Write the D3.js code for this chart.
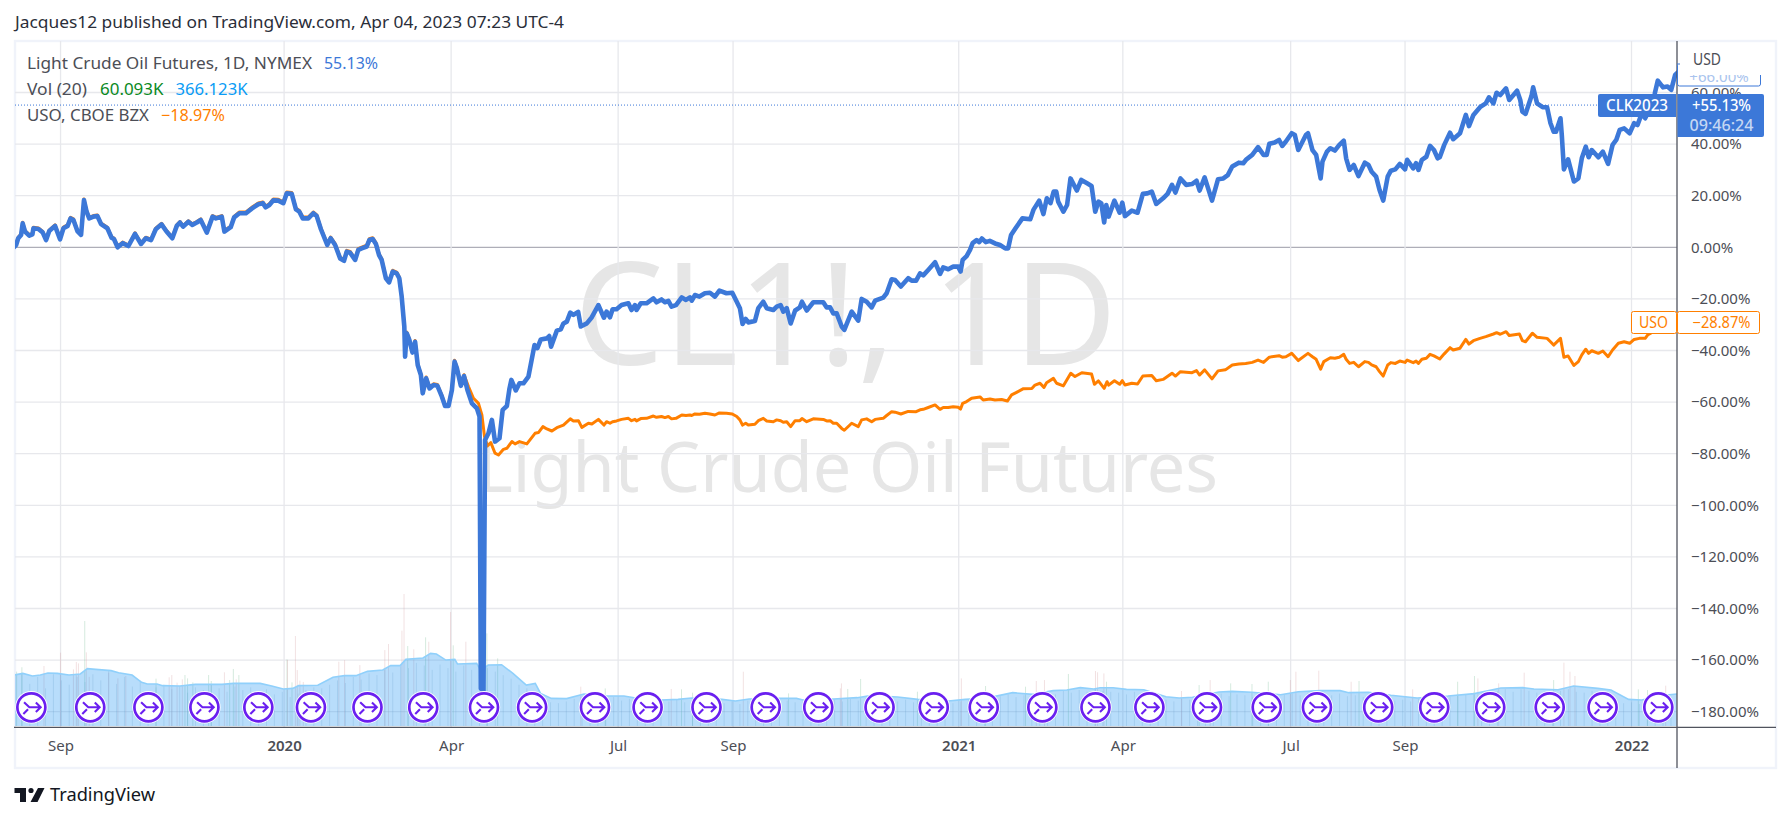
<!DOCTYPE html>
<html><head><meta charset="utf-8">
<script src="https://cdnjs.cloudflare.com/ajax/libs/d3/7.8.5/d3.min.js"></script>
<style>html,body{margin:0;padding:0;background:#fff}svg{display:block}text{font-family:"Noto Sans",sans-serif}</style>
</head><body><div id="chart"></div>
<script>
// [session number, % change]
const crudeSeries=[[0,0],[0.8,0.9],[1.6,3.5],[2.7,4.8],[3.3,9.3],[4.2,6.1],[5.8,4.5],[7,5],[7.4,7.4],[9.3,7.1],[10.9,5.8],[12.2,2.8],[13.4,6.3],[15.6,8.3],[17.5,3.1],[18.8,7.4],[20.4,8.3],[21.5,11.2],[22.6,10.6],[24.1,6.3],[25.5,4.8],[26.6,18.3],[27.6,13.8],[28.6,11.2],[30.2,11.9],[31.7,12.1],[33.1,9],[35.5,7.4],[37.1,3.7],[38,3.2],[39.4,0],[41.3,1.6],[43.5,0.5],[46,5.2],[48.3,1.3],[50.1,3.5],[52.1,2.8],[53.9,7],[56.1,8.9],[58,6.1],[60.2,3.5],[61.9,8.3],[63.1,9.6],[64.3,8],[66.3,9.9],[67.8,8.7],[69.5,9.6],[71,10.6],[73.3,5.7],[75.5,11.9],[76.8,11.2],[79,11.9],[80,6.1],[82.4,7.8],[83.7,11.6],[85.7,13.2],[88.2,13.2],[90.4,15],[92.9,16.7],[94.6,17.1],[95.7,15.5],[97.1,16.4],[98.6,18.2],[100.5,18.1],[102.4,17.1],[103.7,20.9],[105.6,20.7],[107.2,14.7],[108.5,13.8],[109.8,11.2],[111.9,11.2],[113.8,13.2],[115.1,12.1],[116.7,7],[119.1,0.9],[120.4,3.5],[122.1,0.9],[124,-4.3],[125.5,-5.2],[126.5,-1.7],[127.8,-2.1],[129.7,-4.9],[130.9,-1],[132.2,-0.4],[134.1,0.3],[135.1,2.8],[136.4,3.2],[137.6,1.3],[138.8,-3],[139.8,-4.9],[141.4,-12],[142.6,-13.6],[144,-9.4],[145.5,-10.1],[146.5,-12],[147.4,-19.1],[148.4,-30.7],[148.7,-42.4],[149.3,-33.3],[150.3,-35.9],[151.5,-40.8],[152.5,-36.6],[153.5,-45.6],[154.7,-49.5],[155.4,-56.6],[156.7,-50.8],[158,-54.7],[159.5,-53.4],[161,-53.7],[162.7,-57.9],[163.9,-61.5],[165.2,-61.5],[166.5,-55.3],[167.5,-44.3],[168.4,-46.9],[169.9,-53.7],[171.1,-49.9],[172.4,-55.3],[174.1,-60.5],[176,-62.4],[177,-65.6],[177.5,-171],[178.5,-172],[179.1,-74.7],[180.4,-72.1],[181.7,-66.9],[182.9,-75.3],[184.6,-74],[185.8,-63],[187.4,-61.5],[188.4,-54.7],[189.1,-51.4],[190.8,-55.5],[192.2,-52.7],[193.7,-52.7],[195.6,-50.1],[197.9,-37.9],[199,-39.1],[200.3,-35.7],[202.6,-35.3],[203.5,-34.4],[204.2,-38.5],[206.4,-32.3],[207.9,-31.8],[208.9,-29.5],[210.2,-28.8],[211.5,-25.3],[212.7,-26.2],[214.5,-25],[215.5,-30.7],[217.8,-29.5],[219.7,-27.1],[222.2,-22.4],[224.3,-27.3],[225.3,-24.9],[226.6,-27.1],[227.6,-24],[229.1,-24],[231,-22.4],[233.6,-21.7],[234.8,-24.3],[236.1,-22.4],[236.7,-24.3],[238.3,-21.7],[240.5,-21.7],[243.1,-19.8],[244.3,-21.3],[246.2,-20.2],[247.5,-21.3],[248.8,-20.8],[250,-23],[251.7,-22.4],[253.9,-19.4],[255.5,-20.4],[257,-19.4],[257.7,-20.7],[258.9,-18.5],[260.6,-19.1],[262.7,-17.8],[264.6,-17.6],[266.5,-19.1],[268.2,-16.8],[270.9,-17.8],[273.1,-17.6],[274.8,-21.1],[276,-23.6],[277,-29.7],[278.2,-27.8],[279.2,-29.1],[281.7,-28.6],[283,-23.6],[284.9,-21.1],[286.2,-23.6],[288.7,-24.3],[290,-23],[291.5,-22.4],[292.5,-24.9],[293.8,-23.6],[295.3,-29.5],[297,-24.5],[298.8,-23.3],[299.6,-21.1],[301.4,-24.5],[303.9,-21.3],[307.7,-21.3],[309,-23.3],[310.3,-23.3],[311.5,-25.6],[312.8,-25.6],[314.7,-30.7],[315.7,-32],[318.5,-24.9],[321,-28.4],[322.3,-20],[324.2,-21.1],[326.1,-23.3],[327.4,-20.7],[330.5,-19.5],[331.8,-17.8],[333.7,-12.4],[335,-12.7],[337.2,-15.2],[340,-12],[341.3,-12.9],[343,-12.9],[344.5,-10.1],[345.7,-10.9],[347.6,-8.8],[350.2,-5.8],[352.1,-10.3],[353.3,-7.8],[355.2,-8.5],[357.1,-7.5],[359,-7.5],[359.9,-9.4],[360.7,-4.9],[362.2,-3.4],[363.5,-1],[364.5,1.6],[366,2.8],[367,2],[368,3.4],[369.5,2],[371,2.5],[373,1.5],[374.9,0.9],[376.9,-0.4],[378,-0.4],[379.1,4.8],[380.8,7.4],[383.4,11.2],[386.4,10.9],[387.6,14.5],[389.8,18.1],[391.4,12.9],[392.7,19],[394.1,17.1],[395.3,21.6],[396.3,21.6],[397,17.7],[399,13.8],[400.4,16.4],[401.7,26.7],[404.1,22],[405.8,26.1],[408,24.8],[409.7,23.8],[411.1,13.8],[412.3,17.7],[413.4,17.1],[414.5,9.6],[415.3,16.4],[416.2,11.9],[418.4,18.1],[420.4,13.4],[421.4,17.3],[422.4,12.1],[425,14.2],[427.2,13.4],[429.2,20.7],[430.9,20.9],[432.6,21.6],[434.3,16.8],[436.9,19],[438.6,20.7],[440.3,24.2],[441.6,21.2],[443.5,26.7],[445.7,24.2],[447.9,24.5],[449.6,25.8],[450.8,22],[452.7,27.1],[455.5,18.1],[457.8,26.4],[459.8,26.7],[461.5,28],[463.2,31.3],[465.7,32.8],[467.4,32.6],[468.6,34.1],[470.8,35.8],[473,38.8],[475.1,35.8],[476.3,35.8],[477.3,40.1],[479.3,40.6],[481,41.6],[482.2,39.3],[483.6,41],[485.8,44.2],[487,43.5],[488.3,37.7],[491.2,43.5],[492,44.2],[493.7,37.7],[495.1,35.8],[496.8,26.7],[497.5,33.2],[499.2,37.1],[500.5,38.4],[502.2,37.5],[503.9,39.7],[505.6,41.3],[506.5,34.5],[507.8,30],[509.4,31.9],[511.2,27.6],[513.6,32.8],[515,31.9],[516.2,29.3],[517.9,27.4],[519.2,22.2],[520.6,18.1],[522.3,27.4],[523.5,29.7],[525.2,30.2],[526.9,32.3],[528.9,30.2],[529.7,33.9],[532,30.6],[533.1,32.6],[534,30],[535.3,33.9],[537,35.1],[538.4,39.3],[539.9,37.7],[541.3,34.5],[542.1,34.9],[543.8,39.7],[546,44.4],[547.2,41.9],[549.8,44.2],[552,51.3],[553.2,47],[554.9,51.3],[557.4,54.3],[559.6,55.8],[560.8,58.1],[562.5,55.8],[563.7,59.9],[565.1,59],[567.3,61.6],[568.5,57.1],[571.5,60.7],[572.7,57.1],[573.5,52.6],[574.7,51.7],[577,58.7],[577.6,62],[579.1,55.8],[581.2,54.3],[582.9,54.3],[584.2,48.1],[585.4,44.8],[586.3,44.8],[588,50],[588.5,43.5],[589.3,30.2],[590.9,34.1],[593.1,25.5],[594.8,26.7],[596.1,34.5],[597.6,39],[598.7,34.9],[599.9,37.7],[602.4,34.9],[604.1,37.1],[606.1,32.3],[607.8,39.7],[609.2,41.6],[610.5,45.5],[612.2,46.1],[614.3,44.2],[616,48.1],[617.3,47.4],[618.9,51.9],[620.2,50],[622.4,54.5],[623.8,59.4],[625,64.6],[627,62],[628.7,62.3],[630.1,61],[631.6,66.8],[632.5,67.7]];
const usoSeries=[[0,0.4],[0.8,1.3],[1.6,3.9],[2.7,5.2],[3.3,9.7],[4.2,6.5],[5.8,4.9],[7,5.4],[7.4,7.8],[9.3,7.5],[10.9,6.2],[12.2,3.2],[13.4,6.7],[15.6,8.7],[17.5,3.5],[18.8,7.8],[20.4,8.7],[21.5,11.6],[22.6,11],[24.1,6.7],[25.5,5.2],[26.6,18.7],[27.6,14.2],[28.6,11.6],[30.2,12.3],[31.7,12.5],[33.1,9.4],[35.5,7.8],[37.1,4.1],[38,3.6],[39.4,0.4],[41.3,2],[43.5,0.9],[46,5.6],[48.3,1.7],[50.1,3.9],[52.1,3.2],[53.9,7.4],[56.1,9.3],[58,6.5],[60.2,3.9],[61.9,8.7],[63.1,10],[64.3,8.4],[66.3,10.3],[67.8,9.1],[69.5,10],[71,11],[73.3,6.1],[75.5,12.3],[76.8,11.6],[79,12.3],[80,6.5],[82.4,8.2],[83.7,12],[85.7,13.7],[88.2,13.7],[90.4,15.5],[92.9,17.2],[94.6,17.6],[95.7,16],[97.1,16.9],[98.6,18.7],[100.5,18.6],[102.4,17.6],[103.7,21.4],[105.6,21.2],[107.2,15.2],[108.5,14.3],[109.8,11.7],[111.9,11.7],[113.8,13.7],[115.1,12.6],[116.7,7.5],[119.1,1.4],[120.4,4],[122.1,1.4],[124,-3.8],[125.5,-4.7],[126.5,-1.2],[127.8,-1.6],[129.7,-4.4],[130.9,-0.5],[132.2,0.1],[134.1,0.8],[135.1,3.3],[136.4,3.7],[137.6,1.8],[138.8,-2.5],[139.8,-4.4],[141.4,-11.5],[142.6,-13.1],[144,-8.9],[145.5,-9.6],[146.5,-11.5],[147.4,-18.6],[148.4,-30.2],[148.7,-41.9],[149.3,-32.8],[150.3,-35.4],[151.5,-40.3],[152.5,-36.1],[153.5,-45.1],[154.7,-49],[155.4,-56.1],[156.7,-50.3],[158,-54.2],[159.5,-52.9],[161,-53.2],[162.7,-57.4],[163.9,-61],[165.2,-61],[166.5,-54.8],[167.5,-43.8],[168.4,-46.4],[169.9,-53.2],[171.1,-49.4],[172.8,-54],[174.7,-58.5],[176.6,-60.5],[177.9,-65],[178.9,-73.4],[180,-77],[181.3,-75.7],[182.9,-79.8],[184.2,-80.5],[186.1,-78.3],[187.4,-77.9],[189.3,-75.3],[190.5,-76.2],[192.2,-75.3],[195,-76.2],[198.1,-72.1],[199.4,-71.8],[201.1,-69.5],[202.6,-70.4],[204.5,-71.2],[206.4,-69.9],[208.9,-68.9],[211.5,-66.5],[212.7,-67.3],[214.6,-67.2],[215.9,-69.8],[218.4,-68.2],[219.7,-68.5],[222.2,-66.7],[224.3,-68.9],[225.3,-67.6],[226.6,-68.2],[227.6,-67.6],[229.1,-67.3],[231,-66.7],[233.6,-66.3],[234.8,-67.2],[236.1,-66.7],[236.7,-67.3],[238.3,-66.4],[240.5,-66.3],[243.1,-65.4],[244.3,-65.9],[246.2,-65.6],[247.5,-66],[248.8,-65.6],[250,-66.5],[251.7,-66.3],[253.9,-65],[255.5,-65.2],[257,-65],[257.7,-65.2],[258.9,-64.6],[260.6,-64.7],[262.7,-64.3],[264.6,-64.6],[266.5,-65],[268.2,-64.2],[270.9,-64.3],[273.1,-64.6],[274.8,-65.6],[276,-66.9],[277,-68.9],[278.2,-68.2],[279.2,-68.9],[281.7,-68.6],[283,-67.2],[284.9,-66.3],[286.2,-67.3],[288.7,-67.6],[290,-66.9],[291.5,-67.2],[292.5,-67.8],[293.8,-67.6],[295.3,-69.5],[297,-67.2],[298.8,-67.2],[299.6,-66.4],[301.4,-67.6],[303.9,-66.5],[307.7,-66.7],[309,-67.3],[310.3,-67.2],[311.5,-68.2],[312.8,-68.2],[314.7,-70.2],[315.7,-70.9],[318.5,-68.2],[321,-69.5],[322.3,-66.9],[324.2,-66.5],[326.1,-67.6],[327.4,-66.7],[330.5,-66.3],[331.8,-65.2],[333.7,-63.7],[335,-63.9],[337.2,-64.6],[340,-63.6],[343,-63.7],[344.5,-63],[345.7,-62.8],[347.6,-62.1],[350.2,-61.1],[352.1,-62.8],[353.3,-62.1],[355.2,-62.1],[357.1,-61.8],[359,-62],[359.9,-62.7],[360.7,-60.5],[362.2,-59.8],[364.1,-58.5],[367.3,-58],[368.5,-59.2],[371.1,-58.8],[373,-59.2],[375.5,-59],[377.7,-59.6],[379.3,-57.2],[381.2,-56.2],[383.8,-54.8],[387,-54.7],[388.2,-53.4],[390.1,-52.7],[391.6,-54.3],[392.6,-52.5],[395.2,-50.8],[396.4,-52.7],[399,-53.7],[401.8,-48.8],[403.4,-50.1],[406,-48.6],[409.7,-49.1],[410.8,-53.1],[412.3,-51.8],[414.5,-54.7],[415.6,-52.1],[416.2,-53.4],[418.4,-51.7],[420.4,-53.1],[421.4,-51.7],[422.4,-53.4],[425,-52.7],[427.2,-53],[429.2,-49.9],[432.6,-49.7],[434.3,-51.7],[436.9,-51.2],[440.3,-48.8],[441.6,-49.9],[443.5,-48.2],[447.9,-48.6],[449.6,-47.8],[450.8,-49.5],[452.7,-47.5],[455.5,-51],[457.8,-47.9],[460.6,-47.5],[463.2,-45.6],[465.7,-45.2],[468.3,-45],[470.8,-44.6],[473,-43.7],[475.1,-44.6],[477.3,-42.6],[481,-42],[482.2,-42.6],[483.6,-42.4],[485.8,-41.1],[488.3,-43.9],[491.2,-41.7],[492,-41.1],[493.7,-42.4],[495.1,-43.4],[496.8,-47.2],[498,-44.3],[500.5,-42.8],[502.2,-43],[503.9,-42.6],[505.6,-41.5],[506.5,-43.4],[507.8,-45],[509.4,-44.6],[511.2,-46.3],[513.6,-44.3],[515,-44.6],[516.2,-45.6],[517.9,-46.3],[519.2,-48.2],[520.6,-49.9],[522.3,-45.6],[523.5,-44.7],[525.2,-45],[526.9,-44.1],[528.9,-44.6],[529.7,-43.7],[532,-44.7],[533.1,-44.1],[534,-45],[535.3,-43.4],[537,-43],[538.4,-41.5],[539.9,-42.1],[542.1,-43.3],[543.8,-41.3],[546,-38.9],[547.2,-39.8],[549.8,-39.1],[552,-35.7],[553.2,-37.5],[554.9,-36.2],[557.4,-35.3],[559.6,-34.6],[562.5,-33.6],[563.7,-33.1],[565.1,-33.7],[567.3,-32.7],[568.5,-34.2],[572.4,-33.6],[573.5,-36.2],[574.7,-36.6],[577.3,-33.3],[579.1,-34.9],[582.9,-35.3],[584.2,-36.6],[585.4,-37.9],[588,-35.3],[589.3,-42.6],[590.9,-42.1],[593.1,-45.8],[594.8,-44.3],[596.1,-41.7],[597.6,-39.5],[598.7,-41.1],[599.9,-40.1],[602.4,-41.1],[604.1,-40.2],[606.1,-42.4],[607.8,-39.8],[610,-37.2],[612.2,-36.6],[614.3,-37.2],[616,-35.7],[618,-35.3],[620.2,-35.3],[621.1,-34],[624.5,-32],[627.9,-30.7],[632.5,-28.8]];
// 20-session volume average, thousands
const volumeAverage=[[0,581],[3.4,600],[7,570],[10,581],[12.9,604],[16.5,600],[20.9,581],[25.2,593],[27.9,654],[31.1,646],[36.9,631],[39.8,608],[44.9,581],[48.5,498],[50.7,479],[54.4,479],[56.5,460],[63.1,456],[68.9,475],[79.1,475],[83.5,486],[93.6,486],[98,456],[102.4,422],[106,429],[108.2,460],[115.5,464],[121.3,555],[125.7,574],[130,574],[134.4,623],[140.2,638],[143.2,688],[146.8,688],[149,760],[155.5,775],[158.4,828],[160.6,821],[164.2,752],[167.6,760],[168.6,707],[175.9,714],[177.4,638],[180.3,695],[185.4,699],[189.7,600],[194.8,467],[198.2,486],[200.2,372],[204.3,315],[210.1,312],[216.7,365],[225.5,342],[231.9,342],[235.8,323],[246,296],[252.5,304],[257.6,319],[269.2,304],[274.3,285],[279.5,308],[291,315],[297.5,315],[300,296],[311.6,308],[320.6,323],[325.7,346],[336,331],[343.7,304],[355.3,285],[361.7,304],[369.4,315],[379.7,380],[387.4,361],[395.1,403],[400.3,410],[405.4,437],[410.6,422],[412.9,437],[417.9,437],[423,418],[429.6,414],[438,334],[443,319],[448.1,327],[458.1,388],[463.2,395],[470.7,384],[481.6,357],[488.3,391],[496.7,403],[504.2,403],[507.5,380],[515,384],[523.5,350],[533.5,319],[545.2,342],[555.3,369],[565.3,433],[573.7,437],[577.9,422],[587.1,414],[593,456],[602.2,429],[607.2,410],[613.9,304],[618.9,296],[627.3,350],[632.3,365]];
// volume every third session, thousands
const volumeEveryThird=[520,610,480,560,430,590,520,470,560,500,590,520,640,480,560,450,520,390,440,470,420,460,380,440,410,470,430,390,450,410,440,380,420,360,390,330,370,410,440,430,470,520,490,560,530,600,580,640,610,680,660,720,690,640,700,660,620,690,640,610,660,620,580,540,470,430,380,300,270,260,280,310,290,320,270,300,330,290,310,280,270,290,260,280,300,270,290,260,280,270,260,280,250,290,270,300,260,280,290,270,280,260,290,270,300,280,310,290,320,300,290,310,280,300,270,280,260,250,270,260,280,300,290,280,320,340,360,330,350,340,370,390,360,400,380,410,390,420,400,390,380,360,390,340,310,290,300,280,310,300,340,360,350,370,340,360,350,330,340,320,330,360,370,350,380,370,360,350,370,340,350,330,320,340,310,290,300,280,310,320,330,350,340,370,360,390,380,410,400,420,390,420,400,380,390,370,400,420,390,380,400,370,350,290,260,270,250,280,300,320,330];
// sessions whose volume stands out: session, thousands, 1 rising / 0 falling
const volumeSpikes=[[1,620,1],[3,670,1],[11.4,684,0],[17.7,836,0],[22.6,646,0],[23.7,730,0],[24.5,714,0],[26.9,1197,1],[27.5,840,0],[28.6,560,0],[36,608,0],[39.5,543,0],[42.5,570,0],[54,540,1],[59,555,0],[60,581,0],[62,494,0],[64,532,0],[65,581,1],[66,543,1],[68,498,1],[74,581,1],[75,513,1],[80,612,0],[82,524,1],[83.4,650,1],[84.5,532,0],[85.5,581,1],[103.8,760,1],[104,752,0],[105.7,498,1],[107,1026,0],[107.7,638,0],[108.7,517,0],[110,502,0],[123.5,733,0],[125.7,752,0],[131.5,695,0],[141,866,0],[142.4,935,0],[147.5,1087,0],[148.3,1505,0],[149.7,912,1],[152,874,0],[156.5,1011,1],[157.7,961,0],[166,1300,0],[167,920,1],[171.8,961,0],[179.8,1056,1],[183.9,771,1],[215.5,448,0],[224.8,429,1],[249.9,422,0],[253.8,418,1],[258,380,1],[277.3,619,0],[294.5,372,1],[314.2,429,0],[314.6,486,0],[317,422,1],[321.9,536,1],[343.5,391,1],[360.2,543,0],[369.4,456,1],[384.6,448,1],[388.7,513,0],[391.8,524,0],[400.9,593,1],[411.2,627,0],[412,612,0],[414.4,600,0],[415.4,505,1],[443.9,399,0],[450.6,467,1],[454.8,524,0],[462.6,486,1],[470.7,479,1],[476.9,505,1],[485.3,524,0],[487.4,619,0],[496.1,631,0],[508.4,505,0],[511.4,513,1],[531.8,418,0],[548.9,505,1],[555.3,570,1],[556.6,543,0],[564.5,486,0],[574.2,608,0],[585.4,524,1],[589.3,722,0],[591.6,619,0],[593.5,570,0],[617.6,418,1],[621.1,410,1],[628,460,0]];
// contract-rollover marks, session numbers
const rolloverSessions=[6.6,29,51.1,72.4,92.9,112.9,134.4,155.6,178.7,197,220.9,240.9,263.3,285.8,305.8,329.1,349.7,368.7,391,411.2,431.7,453.6,476.3,495.4,518.7,540,561.3,583.9,604,625.2];
const timeTickSessions=[17.7,102.7,166.2,229.7,273.4,359.2,421.6,485.4,528.9,615];
const timeTickLabels=["Sep","2020","Apr","Jul","Sep","2021","Apr","Jul","Sep","2022"];
const percentTicks=[60,40,20,0,-20,-40,-60,-80,-100,-120,-140,-160,-180];
const lastClose=55.13;

const BLUE="#3c78d8",ORANGE="#ff7f00",GRID="#e7e8ec",TXT="#4c4e56";
const svg=d3.select("#chart").append("svg").attr("width",1791).attr("height",822);
const x=d3.scaleLinear().domain([0,632.3]).range([14,1677]);
const y=d3.scaleLinear().domain([0,-180]).range([247.3,711.7]);
const v=d3.scaleLinear().domain([0,1000]).range([726,638.3]);
const fitted=(xx,yy,size,fill,str,len,anchor)=>svg.append("text").attr("x",xx).attr("y",yy).attr("font-size",size).attr("fill",fill).attr("text-anchor",anchor||"start").attr("textLength",len).attr("lengthAdjust","spacingAndGlyphs").text(str);

svg.append("defs").append("clipPath").attr("id","plot").append("rect").attr("x",15).attr("y",41).attr("width",1662).attr("height",686);

// frame
svg.append("rect").attr("x",15).attr("y",41).attr("width",1761).attr("height",727).attr("fill","#fff").attr("stroke","#f0f3fa").attr("stroke-width",2.4);

// watermarks
fitted(574,365,143,"#e6e6e6","CL1!, 1D",543);
fitted(477,491.5,70,"#e6e6e6","Light Crude Oil Futures",741);

// grid
const grid=svg.append("g").attr("stroke",GRID).attr("stroke-width",1.3);
grid.selectAll("line.h").data(percentTicks).join("line").attr("x1",15).attr("x2",1677).attr("y1",d=>y(d)).attr("y2",d=>y(d)).attr("stroke",d=>d===0?"#aeaeb8":GRID);
grid.selectAll("line.v").data(timeTickSessions).join("line").attr("y1",41).attr("y2",727).attr("x1",d=>x(d)).attr("x2",d=>x(d));

// volume
const vol=svg.append("g").attr("clip-path","url(#plot)");
vol.selectAll("line.b").data(volumeEveryThird).join("line").attr("x1",(d,i)=>x(i*3)).attr("x2",(d,i)=>x(i*3)).attr("y1",v(0)).attr("y2",d=>v(d)).attr("stroke","#6f8fa8").attr("stroke-opacity",.2).attr("stroke-width",1);
vol.selectAll("line.s").data(volumeSpikes).join("line").attr("x1",d=>x(d[0])).attr("x2",d=>x(d[0])).attr("y1",v(0)).attr("y2",d=>v(d[1])).attr("stroke",d=>d[2]?"#7fbf9a":"#d9a3a8").attr("stroke-opacity",.33).attr("stroke-width",1);
vol.append("path").datum(volumeAverage).attr("fill","#2196f3").attr("fill-opacity",.32)
  .attr("d",d3.area().x(d=>x(d[0])).y0(v(0)).y1(d=>v(d[1])));
vol.append("path").datum(volumeAverage).attr("fill","none").attr("stroke","#90d0fb").attr("stroke-width",1.6)
  .attr("d",d3.line().x(d=>x(d[0])).y(d=>v(d[1])));

// last price dotted line
svg.append("line").attr("x1",15).attr("x2",1598).attr("y1",y(lastClose)).attr("y2",y(lastClose)).attr("stroke",BLUE).attr("stroke-width",1).attr("stroke-dasharray","1 2");

// series
const line=d3.line().x(d=>x(d[0])).y(d=>y(d[1]));
const lines=svg.append("g").attr("clip-path","url(#plot)").attr("fill","none").attr("stroke-linejoin","round").attr("stroke-linecap","round");
lines.append("path").datum(usoSeries).attr("stroke",ORANGE).attr("stroke-width",3).attr("d",line);
lines.append("path").datum(crudeSeries).attr("stroke",BLUE).attr("stroke-width",4.6).attr("d",line);

// rollover marks
const ICON="#6a1ff0";
const marks=svg.append("g").selectAll("g").data(rolloverSessions).join("g").attr("transform",d=>`translate(${x(d)},707.3)`);
marks.append("circle").attr("r",16.2).attr("fill","#fff");
marks.append("circle").attr("r",14).attr("fill","#fff").attr("stroke",ICON).attr("stroke-width",2.7);
marks.append("path").attr("fill","none").attr("stroke",ICON).attr("stroke-width",2.1)
  .attr("d","M-7.3,-5L-2,0L9,0M4.5,-4.7L9.3,0L4.5,4.7M-8,6.7L-3.3,2");

// axes
const yAxis=d3.axisRight(y).tickValues(percentTicks).tickSize(0).tickPadding(14).tickFormat(d=>d3.format(".2f")(d)+"%");
const yg=svg.append("g").attr("transform","translate(1677,0)").call(yAxis);
yg.select(".domain").remove();
yg.selectAll("text").attr("font-size",15).attr("fill",TXT).attr("font-family",'"Noto Sans",sans-serif');
const xAxis=d3.axisBottom(x).tickValues(timeTickSessions).tickSize(0).tickPadding(13).tickFormat((d,i)=>timeTickLabels[i]);
const xg=svg.append("g").attr("transform","translate(0,727)").call(xAxis);
xg.select(".domain").remove();
xg.selectAll("text").attr("font-size",15).attr("fill",TXT).attr("font-family",'"Noto Sans",sans-serif')
  .attr("font-weight",(d,i)=>/^\d/.test(timeTickLabels[i])?600:400);
svg.append("line").attr("x1",14).attr("x2",1776).attr("y1",727.3).attr("y2",727.3).attr("stroke","#50535e").attr("stroke-width",1.3);
svg.append("line").attr("x1",1677).attr("x2",1677).attr("y1",41).attr("y2",768).attr("stroke","#50535e").attr("stroke-width",1.3);

// hidden high tag and currency
svg.append("rect").attr("x",1677.5).attr("y",64).attr("width",83).attr("height",22).attr("rx",2).attr("fill","#fff").attr("stroke",BLUE).attr("stroke-width",1);
svg.append("text").attr("x",1719).attr("y",82).attr("text-anchor","middle").attr("font-size",15).attr("fill","#a9c4ee").text("+66.00%");
svg.append("rect").attr("x",1678).attr("y",43).attr("width",96).attr("height",32).attr("fill","#fff");
svg.append("line").attr("x1",1677).attr("x2",1680).attr("y1",64).attr("y2",64).attr("stroke",BLUE);
fitted(1693,65,15.5,TXT,"USD",28);

// price tags
svg.append("path").attr("fill",BLUE).attr("d","M1600,94H1676V117H1600a2,2 0 0 1 -2,-2V96a2,2 0 0 1 2,-2Z");
fitted(1637,111,15.5,"#fff","CLK2023",62,"middle").attr("font-weight",500);
svg.append("path").attr("fill",BLUE).attr("d","M1677.5,94H1762a2,2 0 0 1 2,2V135a2,2 0 0 1 -2,2H1677.5Z");
fitted(1721.5,111,15.5,"#fff","+55.13%",59,"middle").attr("font-weight",500);
fitted(1721.5,131,15.5,"#c5d7f3","09:46:24",64,"middle").attr("font-weight",500);

svg.append("rect").attr("x",1631.5).attr("y",311.5).attr("width",45).attr("height",22).attr("rx",2).attr("fill","#fff").attr("stroke",ORANGE);
fitted(1653.5,328,15.5,ORANGE,"USO",29,"middle");
svg.append("rect").attr("x",1677.5).attr("y",311.5).attr("width",82).attr("height",22).attr("rx",2).attr("fill","#fff").attr("stroke",ORANGE);
fitted(1721.5,328,15.5,ORANGE,"−28.87%",58,"middle");

// header and legend
fitted(15,28,16.5,"#2a2e39","Jacques12 published on TradingView.com, Apr 04, 2023 07:23 UTC-4",549);
const legend=(yy,parts)=>{parts.forEach(p=>fitted(p[0],yy,16,p[2],p[1],p[3]));};
legend(69,[[27,"Light Crude Oil Futures, 1D, NYMEX",TXT,285],[324,"55.13%",BLUE,54]]);
legend(95,[[27,"Vol (20)",TXT,60],[100,"60.093K","#0a8a1f",63.5],[175.5,"366.123K","#0a9cf5",72]]);
legend(121,[[27,"USO, CBOE BZX",TXT,122],[161,"−18.97%",ORANGE,64]]);

// logo
svg.append("path").attr("fill","#131722").attr("d","M14.5,788H26V802H20V793H14.5ZM38,788H44.5L37.5,802H30.5Z");
svg.append("circle").attr("cx",31).attr("cy",790.5).attr("r",2.6).attr("fill","#131722");
fitted(50,801,18,"#131722","TradingView",105);
</script></body></html>
